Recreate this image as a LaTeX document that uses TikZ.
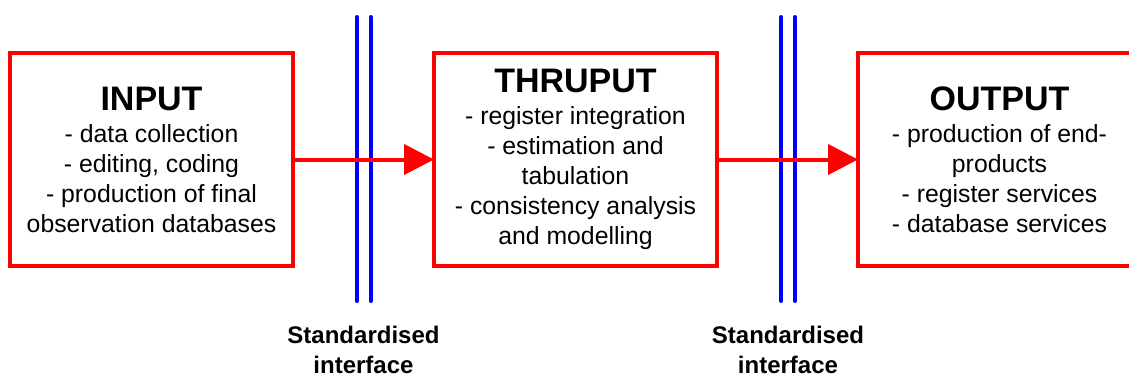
\documentclass[tikz,border=0pt]{standalone}
\usepackage{fontspec}
\setmainfont{Liberation Sans}
\usepackage{xcolor}
\usetikzlibrary{arrows.meta, positioning}

\begin{document}
\begin{tikzpicture}[
    x=0.5pt, y=-0.5pt,
    node distance=70.5pt,
    stage/.style={rectangle, draw=red, line width=2pt, outer sep=0pt, minimum width=141.5pt, minimum height=106.5pt, align=center, font=\fontsize{12.4}{15}\selectfont},
    flow/.style={-{Triangle[length=15pt, width=15pt]}, draw=red, line width=2pt},
    wall/.style={draw=blue, line width=2pt, line cap=round},
    caption/.style={anchor=north, inner sep=0pt, align=center, font=\fontsize{12}{15}\selectfont\bfseries}
]
\newcommand{\stagetitle}[1]{{\fontsize{17}{15}\selectfont\bfseries #1}\\[1pt]}

\clip (0,0) rectangle (1129,377);

\node[stage] (input) at (151.5,159.5) {\stagetitle{INPUT}- data collection\\- editing, coding\\- production of final\\observation databases};
\node[stage, right=of input] (thruput) {\stagetitle{THRUPUT}- register integration\\- estimation and\\tabulation\\- consistency analysis\\and modelling};
\node[stage, right=of thruput] (output) {\stagetitle{OUTPUT}- production of end-\\products\\- register services\\- database services};

% standardised interfaces
\foreach \name/\xpos in {left/363.5, right/788} {
  \draw[wall] (\xpos-7,17) -- (\xpos-7,301);
  \draw[wall] (\xpos+7,17) -- (\xpos+7,301);
  \node[caption] (\name label) at (\xpos,326) {Standardised\\interface};
}

\draw[flow] (input) -- (thruput);
\draw[flow] (thruput) -- (output);

\end{tikzpicture}
\end{document}
